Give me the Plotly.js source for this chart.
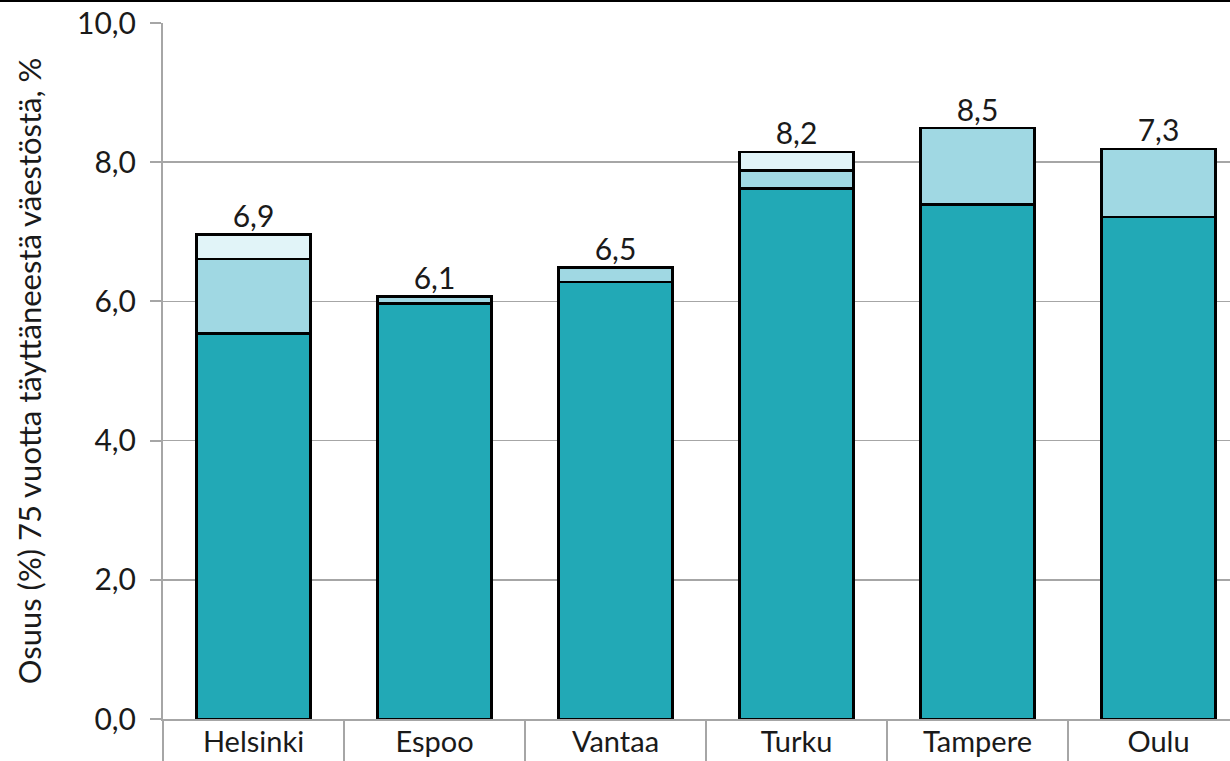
<!DOCTYPE html>
<html>
<head>
<meta charset="utf-8">
<script src="https://cdn.plot.ly/plotly-3.0.1.min.js"></script>
<style>
  html, body { margin: 0; padding: 0; background: #fff; }
  #chart { width: 1230px; height: 761px; }
</style>
</head>
<body>
<div id="chart"></div>
<script>
const categories = ['Helsinki', 'Espoo', 'Vantaa', 'Turku', 'Tampere', 'Oulu'];
const seriesBase = [5.54, 5.97, 6.28, 7.62, 7.39, 7.21];
const seriesMid = [1.07, 0.10, 0.21, 0.26, 1.10, 0.98];
const seriesTop = [0.35, null, null, 0.27, null, null];
const totalLabels = ['6,9', '6,1', '6,5', '8,2', '8,5', '7,3'];
const yTickVals = [0, 2, 4, 6, 8, 10];

const totals = categories.map((c, i) => (seriesBase[i] || 0) + (seriesMid[i] || 0) + (seriesTop[i] || 0));

const FONT = 'Lato, "Open Sans", sans-serif';
const GRID = '#a6a6a6';
const TXT = '#1a1a1a';
const lineStyle = { color: '#000000', width: 2.5 };

const traces = [
  { type: 'bar', x: categories, y: seriesBase, marker: { color: '#22a9b6', line: lineStyle }, hoverinfo: 'y' },
  { type: 'bar', x: categories, y: seriesMid, marker: { color: '#a0d8e3', line: lineStyle }, hoverinfo: 'y' },
  { type: 'bar', x: categories, y: seriesTop, marker: { color: '#e1f4f8', line: lineStyle }, hoverinfo: 'y' },
  { type: 'scatter', mode: 'text', x: categories, y: totals, text: totalLabels,
    textposition: 'top center', textfont: { family: FONT, size: 30, color: TXT },
    hoverinfo: 'skip', cliponaxis: false }
];

const layout = {
  width: 1230, height: 761,
  margin: { l: 163, r: 0, t: 23, b: 42 },
  paper_bgcolor: '#ffffff', plot_bgcolor: '#ffffff',
  barmode: 'stack', bargap: 0.37,
  showlegend: false,
  separators: ', ',
  font: { family: FONT, size: 30, color: TXT },
  xaxis: {
    type: 'category',
    range: [-0.5, 5.395],
    showline: true, linecolor: GRID, linewidth: 2,
    ticks: 'outside', tickson: 'boundaries', ticklen: 42, tickwidth: 2, tickcolor: GRID,
    ticklabelstandoff: -4,
    showgrid: false, zeroline: false,
    tickfont: { family: FONT, size: 29, color: TXT },
    fixedrange: true
  },
  yaxis: {
    range: [0, 10],
    tickvals: yTickVals, tickformat: '.1f',
    showline: true, linecolor: GRID, linewidth: 2,
    ticks: 'outside', ticklen: 11, tickwidth: 2, tickcolor: GRID,
    ticklabelstandoff: 8,
    showgrid: true, gridcolor: GRID, gridwidth: 1.5,
    zeroline: false,
    tickfont: { family: FONT, size: 30, color: TXT },
    title: { text: 'Osuus (%) 75 vuotta täyttäneestä väestöstä, %', standoff: 26,
             font: { family: FONT, size: 31, color: TXT } },
    fixedrange: true
  },
  shapes: [
    { type: 'line', xref: 'paper', yref: 'paper', x0: -0.2, x1: 1.0, y0: 1.0316, y1: 1.0316,
      line: { color: '#000000', width: 2 } }
  ]
};

Plotly.newPlot('chart', traces, layout, { displayModeBar: false, staticPlot: true });
</script>
</body>
</html>
